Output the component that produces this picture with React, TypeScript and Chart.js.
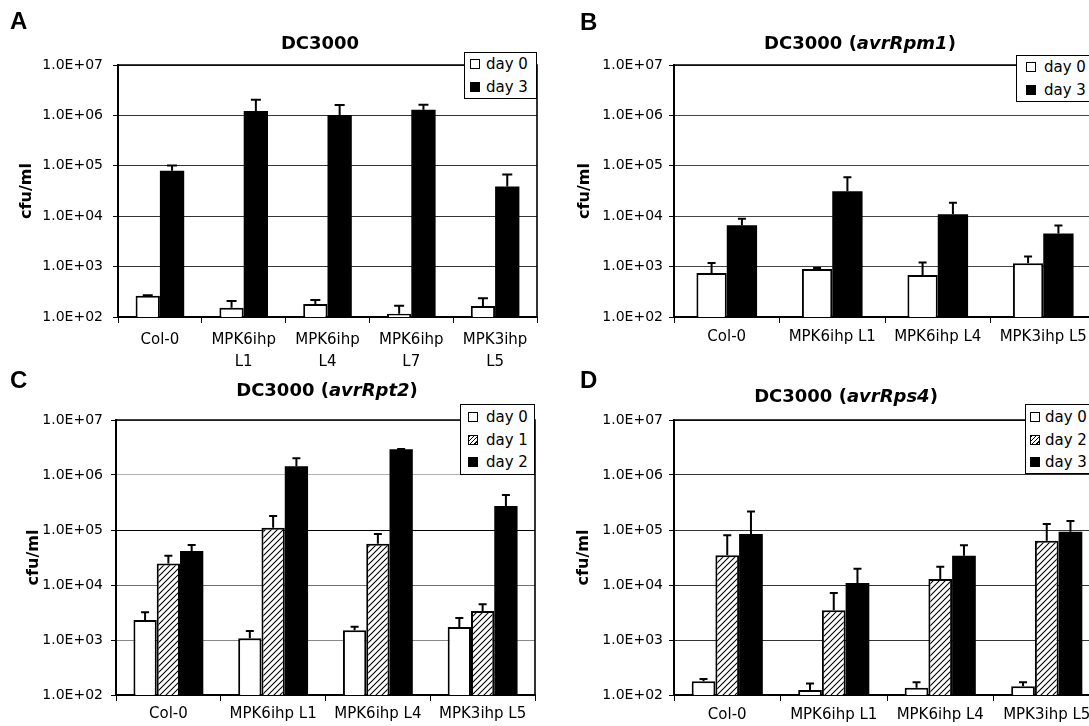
import React, { useEffect, useRef } from 'react';
import { Chart, registerables } from 'chart.js';

Chart.register(...registerables);

// ---------- shared axis data ----------
const yTickValues = [1e2, 1e3, 1e4, 1e5, 1e6, 1e7];
const yTickLabels = ['1.0E+02', '1.0E+03', '1.0E+04', '1.0E+05', '1.0E+06', '1.0E+07'];
const yAxisTitle = 'cfu/ml';

// ---------- Panel A : DC3000 ----------
const categoriesA = [['Col-0'], ['MPK6ihp', 'L1'], ['MPK6ihp', 'L4'], ['MPK6ihp', 'L7'], ['MPK3ihp', 'L5']];
const aDay0 = [265, 153, 181, 116, 165];
const aDay0Err = [5, 55, 37, 52, 70];
const aDay3 = [79500, 1220000, 1020000, 1290000, 38900];
const aDay3Err = [22000, 820000, 580000, 330000, 28000];

// ---------- Panel B : DC3000 (avrRpm1) ----------
const categoriesB = ['Col-0', 'MPK6ihp L1', 'MPK6ihp L4', 'MPK3ihp L5'];
const bDay0 = [748, 899, 683, 1170];
const bDay0Err = [435, 43, 517, 410];
const bDay3 = [6620, 31400, 10960, 4550];
const bDay3Err = [2230, 28200, 7440, 1970];

// ---------- Panel C : DC3000 (avrRpt2) ----------
const categoriesC = ['Col-0', 'MPK6ihp L1', 'MPK6ihp L4', 'MPK3ihp L5'];
const cDay0 = [2310, 1072, 1500, 1723];
const cDay0Err = [870, 386, 246, 787];
const cDay1 = [24500, 110000, 56500, 3366];
const cDay1Err = [9400, 70000, 28100, 1084];
const cDay2 = [41700, 1440000, 2930000, 273000];
const cDay2Err = [11700, 570000, 40000, 160000];

// ---------- Panel D : DC3000 (avrRps4) ----------
const categoriesD = ['Col-0', 'MPK6ihp L1', 'MPK6ihp L4', 'MPK3ihp L5'];
const dDay0 = [177, 123, 136, 144];
const dDay0Err = [18, 38, 34, 26];
const dDay2 = [34600, 3460, 12850, 64000];
const dDay2Err = [45400, 3700, 8650, 64000];
const dDay3 = [84600, 10870, 34100, 93300];
const dDay3Err = [133400, 8930, 18500, 51700];

type Kind = 'white' | 'hatch' | 'black';
type Series = { label: string; kind: Kind; values: number[]; errors: number[] };
type Box = { left: number; top: number; width: number; height: number };
type PanelSpec = {
  letter: string;
  letterPos: { left: number; top: number };
  titleMain: string;
  titleItalic?: string;
  titlePos: { x: number; y: number };
  categories: (string | string[])[];
  series: Series[];
  canvas: Box;
  plot: { left: number; right: number; top: number; bottom: number };
  catPct: number;
  yTickPad: number;
  xTickPad: number;
  yTitlePad: number;
  capWidth: number;
  gridColor: (v: number) => string;
  legend: Box & { rows: number[]; markerX: number; textX: number; markerBorder: number };
};

const FONT = "'DejaVu Sans', sans-serif";

function makeHatch(): CanvasPattern | string {
  const s = 6;
  const c = document.createElement('canvas');
  c.width = s;
  c.height = s;
  const g = c.getContext('2d');
  if (!g) return '#888';
  g.fillStyle = '#fff';
  g.fillRect(0, 0, s, s);
  g.strokeStyle = '#000';
  g.lineWidth = 1.1;
  g.beginPath();
  g.moveTo(0, s);
  g.lineTo(s, 0);
  g.moveTo(-s / 2, s / 2);
  g.lineTo(s / 2, -s / 2);
  g.moveTo(s / 2, s * 1.5);
  g.lineTo(s * 1.5, s / 2);
  g.stroke();
  return g.createPattern(c, 'repeat') || '#888';
}

const panels: PanelSpec[] = [
  {
    letter: 'A',
    letterPos: { left: 10, top: 9 },
    titleMain: 'DC3000',
    titlePos: { x: 320, y: 43 },
    categories: categoriesA,
    series: [
      { label: 'day 0', kind: 'white', values: aDay0, errors: aDay0Err },
      { label: 'day 3', kind: 'black', values: aDay3, errors: aDay3Err },
    ],
    canvas: { left: 0, top: 0, width: 580, height: 375 },
    plot: { left: 118, right: 537, top: 65, bottom: 317 },
    catPct: 0.58,
    yTickPad: 10,
    xTickPad: 6,
    yTitlePad: 17,
    capWidth: 10,
    gridColor: () => '#333',
    legend: { left: 464, top: 52, width: 73, height: 47, rows: [13, 36], markerX: 5, textX: 21, markerBorder: 1.6 },
  },
  {
    letter: 'B',
    letterPos: { left: 580, top: 10 },
    titleMain: 'DC3000 (',
    titleItalic: 'avrRpm1',
    titlePos: { x: 860, y: 43 },
    categories: categoriesB,
    series: [
      { label: 'day 0', kind: 'white', values: bDay0, errors: bDay0Err },
      { label: 'day 3', kind: 'black', values: bDay3, errors: bDay3Err },
    ],
    canvas: { left: 545, top: 0, width: 601, height: 375 },
    plot: { left: 674, right: 1096, top: 65, bottom: 317 },
    catPct: 0.575,
    yTickPad: 6,
    xTickPad: 3,
    yTitlePad: 30,
    capWidth: 8,
    gridColor: () => '#444',
    legend: { left: 1016, top: 55, width: 90, height: 47, rows: [13, 36], markerX: 9, textX: 27, markerBorder: 1.6 },
  },
  {
    letter: 'C',
    letterPos: { left: 10, top: 368 },
    titleMain: 'DC3000 (',
    titleItalic: 'avrRpt2',
    titlePos: { x: 327, y: 390 },
    categories: categoriesC,
    series: [
      { label: 'day 0', kind: 'white', values: cDay0, errors: cDay0Err },
      { label: 'day 1', kind: 'hatch', values: cDay1, errors: cDay1Err },
      { label: 'day 2', kind: 'black', values: cDay2, errors: cDay2Err },
    ],
    canvas: { left: 0, top: 375, width: 580, height: 351 },
    plot: { left: 116, right: 535, top: 420, bottom: 695 },
    catPct: 0.667,
    yTickPad: 8,
    xTickPad: 2,
    yTitlePad: 24,
    capWidth: 8,
    gridColor: (v: number) => (v === 1e5 ? '#000' : v === 1e6 ? '#b0b0b0' : v === 1e4 ? '#707070' : '#888'),
    legend: { left: 460, top: 404, width: 75, height: 71, rows: [14, 37, 59], markerX: 7, textX: 25, markerBorder: 1 },
  },
  {
    letter: 'D',
    letterPos: { left: 580, top: 368 },
    titleMain: 'DC3000 (',
    titleItalic: 'avrRps4',
    titlePos: { x: 846, y: 396 },
    categories: categoriesD,
    series: [
      { label: 'day 0', kind: 'white', values: dDay0, errors: dDay0Err },
      { label: 'day 2', kind: 'hatch', values: dDay2, errors: dDay2Err },
      { label: 'day 3', kind: 'black', values: dDay3, errors: dDay3Err },
    ],
    canvas: { left: 545, top: 375, width: 605, height: 351 },
    plot: { left: 674, right: 1100, top: 420, bottom: 695 },
    catPct: 0.668,
    yTickPad: 6,
    xTickPad: 3,
    yTitlePad: 29,
    capWidth: 8,
    gridColor: () => '#333',
    legend: { left: 1025, top: 404, width: 90, height: 70, rows: [14, 37, 59], markerX: 4, textX: 19, markerBorder: 1 },
  },
];

function BarPanel({ spec }: { spec: PanelSpec }) {
  const ref = useRef<HTMLCanvasElement | null>(null);

  useEffect(() => {
    const canvas = ref.current;
    if (!canvas) return;
    const hatch = makeHatch();
    const fillFor = (k: Kind) => (k === 'white' ? '#ffffff' : k === 'black' ? '#000000' : hatch);

    const errorBars = {
      id: 'errorBars',
      afterDatasetsDraw(chart: any) {
        const ctx = chart.ctx;
        const yScale = chart.scales.y;
        spec.series.forEach((s, i) => {
          const meta = chart.getDatasetMeta(i);
          meta.data.forEach((el: any, j: number) => {
            const top = yScale.getPixelForValue(s.values[j] + s.errors[j]);
            const x = el.x;
            ctx.save();
            ctx.strokeStyle = '#000';
            ctx.lineWidth = 2;
            ctx.beginPath();
            ctx.moveTo(x, el.y);
            ctx.lineTo(x, top);
            ctx.moveTo(x - spec.capWidth / 2, top);
            ctx.lineTo(x + spec.capWidth / 2, top);
            ctx.stroke();
            ctx.restore();
          });
        });
      },
    };

    const frame = {
      id: 'frame',
      afterDatasetsDraw(chart: any) {
        const { ctx, chartArea } = chart;
        ctx.save();
        ctx.strokeStyle = '#000';
        ctx.lineWidth = 1.6;
        ctx.beginPath();
        ctx.moveTo(chartArea.left, chartArea.top);
        ctx.lineTo(chartArea.right, chartArea.top);
        ctx.lineTo(chartArea.right, chartArea.bottom);
        ctx.stroke();
        ctx.restore();
      },
    };

    const chart = new Chart(canvas, {
      type: 'bar',
      data: {
        labels: spec.categories as any,
        datasets: spec.series.map((s) => ({
          label: s.label,
          data: s.values,
          backgroundColor: fillFor(s.kind) as any,
          borderColor: '#000',
          borderWidth: s.kind === 'black' ? 0 : 2,
          categoryPercentage: spec.catPct,
          barPercentage: 1,
        })),
      },
      options: {
        animation: false,
        responsive: false,
        maintainAspectRatio: false,
        events: [],
        layout: {
          padding: {
            top: spec.plot.top - spec.canvas.top,
            right: spec.canvas.left + spec.canvas.width - spec.plot.right,
            left: 0,
            bottom: 0,
          },
        },
        plugins: {
          legend: { display: false },
          title: { display: false },
          tooltip: { enabled: false },
        },
        scales: {
          x: {
            type: 'category',
            grid: { offset: true, drawOnChartArea: false, drawTicks: true, tickLength: 6, color: '#000', lineWidth: 1 },
            border: { display: true, color: '#000', width: 2 },
            ticks: {
              color: '#000',
              font: { family: FONT, size: 15, lineHeight: 1.45 },
              padding: spec.xTickPad,
              maxRotation: 0,
              minRotation: 0,
              autoSkip: false,
            },
            afterFit: (s: any) => {
              s.height = spec.canvas.top + spec.canvas.height - spec.plot.bottom;
            },
          } as any,
          y: {
            type: 'logarithmic',
            min: 1e2,
            max: 1e7,
            afterBuildTicks: (s: any) => {
              s.ticks = yTickValues.map((v) => ({ value: v }));
            },
            ticks: {
              color: '#000',
              font: { family: FONT, size: 14 },
              padding: spec.yTickPad,
              callback: (v: any) => {
                const i = yTickValues.indexOf(Number(v));
                return i >= 0 ? yTickLabels[i] : '';
              },
            },
            grid: {
              color: (ctx: any) => spec.gridColor(ctx.tick ? ctx.tick.value : 0),
              lineWidth: 1,
              drawTicks: true,
              tickLength: 5,
              tickColor: '#000',
            },
            border: { display: true, color: '#000', width: 2 },
            title: {
              display: true,
              text: yAxisTitle,
              color: '#000',
              font: { family: FONT, size: 16, weight: 'bold' },
              padding: { top: spec.yTitlePad, bottom: 0 },
            },
            afterFit: (s: any) => {
              s.width = spec.plot.left - spec.canvas.left;
            },
          } as any,
        },
      },
      plugins: [frame, errorBars],
    });
    return () => chart.destroy();
  }, [spec]);

  const c = spec.canvas;
  const lg = spec.legend;
  const markerStyle = (k: Kind): React.CSSProperties => {
    const base: React.CSSProperties = {
      position: 'absolute',
      left: lg.markerX,
      width: 10,
      height: 10,
      boxSizing: 'border-box',
      border: `${lg.markerBorder}px solid #000`,
    };
    if (k === 'white') return { ...base, background: '#fff' };
    if (k === 'black') return { ...base, background: '#000' };
    return {
      ...base,
      background: 'repeating-linear-gradient(135deg, #000 0px, #000 1px, #fff 1px, #fff 3px)',
    };
  };

  return (
    <>
      <canvas
        ref={ref}
        width={c.width}
        height={c.height}
        style={{ position: 'absolute', left: c.left, top: c.top, width: c.width, height: c.height }}
      />
      <div
        style={{
          position: 'absolute',
          left: spec.letterPos.left,
          top: spec.letterPos.top,
          font: "bold 24px 'Liberation Sans', Arial, sans-serif",
          lineHeight: '24px',
          color: '#000',
        }}
      >
        {spec.letter}
      </div>
      <div
        style={{
          position: 'absolute',
          left: spec.titlePos.x,
          top: spec.titlePos.y,
          transform: 'translate(-50%, -50%)',
          font: `bold 18px ${FONT}`,
          lineHeight: '18px',
          whiteSpace: 'nowrap',
          color: '#000',
        }}
      >
        {spec.titleMain}
        {spec.titleItalic ? (
          <>
            <i>{spec.titleItalic}</i>)
          </>
        ) : null}
      </div>
      <div
        style={{
          position: 'absolute',
          left: lg.left,
          top: lg.top,
          width: lg.width,
          height: lg.height,
          boxSizing: 'border-box',
          border: '1.6px solid #000',
          background: '#fff',
        }}
      >
        {spec.series.map((s, i) => (
          <React.Fragment key={s.label}>
            <div style={{ ...markerStyle(s.kind), top: lg.rows[i] - 5 - 1.6 }} />
            <div
              style={{
                position: 'absolute',
                left: lg.textX,
                top: lg.rows[i] - 10 - 1.6,
                font: `15px ${FONT}`,
                lineHeight: '20px',
                whiteSpace: 'nowrap',
                color: '#000',
              }}
            >
              {s.label}
            </div>
          </React.Fragment>
        ))}
      </div>
    </>
  );
}

export default function App() {
  return (
    <div
      style={{
        position: 'fixed',
        left: 0,
        top: 0,
        width: 1089,
        height: 726,
        overflow: 'hidden',
        background: '#fff',
      }}
    >
      {panels.map((p) => (
        <BarPanel key={p.letter} spec={p} />
      ))}
    </div>
  );
}
